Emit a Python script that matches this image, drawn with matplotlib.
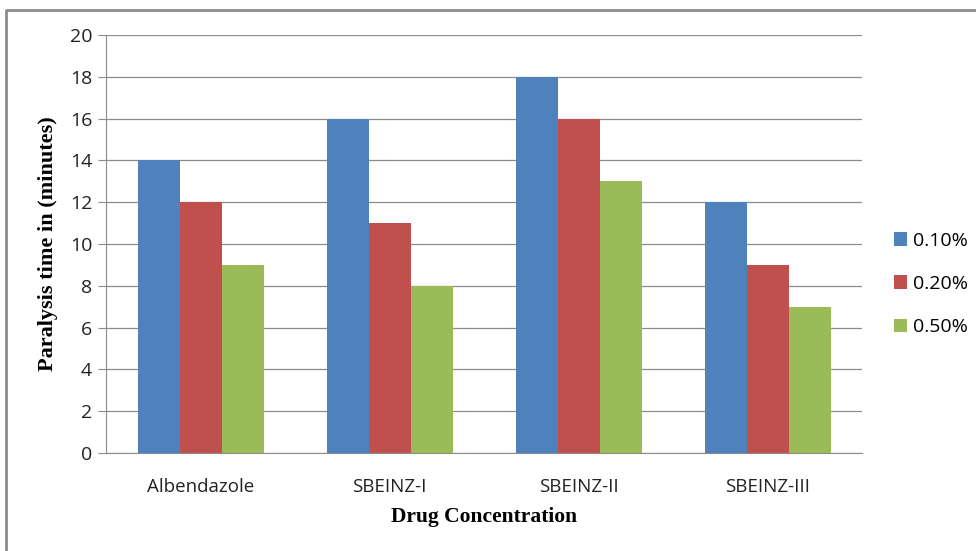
import matplotlib.pyplot as plt
from matplotlib.lines import Line2D
import numpy as np

drugs = ['Albendazole', 'SBEINZ-I', 'SBEINZ-II', 'SBEINZ-III']
conc = ['0.10%', '0.20%', '0.50%']
c010 = [14, 16, 18, 12]
c020 = [12, 11, 16, 9]
c050 = [9, 8, 13, 7]
colors = ['#4f81bd', '#c0504d', '#9bbb59']

W, H = 976, 551
fig = plt.figure(figsize=(W / 100, H / 100), dpi=100)
# chart frame: only left and top edges are visible in the crop
fig.lines.append(Line2D([6 / W, 6 / W, 1], [0, 1 - 10 / H, 1 - 10 / H], transform=fig.transFigure,
                        color='#8c8c8c', linewidth=2))
ax = fig.add_axes([106 / W, 1 - 453 / H, 756 / W, 418 / H])

x = np.arange(len(drugs))
bw = 2 / 9
for i, (vals, lab) in enumerate(zip([c010, c020, c050], conc)):
    ax.bar(x + (i - 1) * bw, vals, bw, color=colors[i], label=lab, zorder=3)

ax.set_xlim(-0.5, 3.5)
ax.set_ylim(0, 20)
ax.set_yticks(range(0, 21, 2))
ax.set_xticks(x)
ax.set_xticklabels(drugs)
ax.grid(axis='y', color='#8c8c8c', linewidth=0.9, zorder=0)
for s in ['top', 'right']:
    ax.spines[s].set_visible(False)
for s in ['left', 'bottom']:
    ax.spines[s].set_color('#8c8c8c')
ax.tick_params(axis='y', length=6, color='#8c8c8c', labelsize=14, pad=4)
ax.tick_params(axis='x', length=0, labelsize=13.5, pad=18)
for t in ax.get_xticklabels() + ax.get_yticklabels():
    t.set_fontfamily('Open Sans')
    t.set_color('#222222')

ax.set_xlabel('Drug Concentration', fontfamily='Liberation Serif', fontweight='bold',
              fontsize=15.5, labelpad=8)
ax.set_ylabel('Paralysis time in (minutes)', fontfamily='Liberation Serif', fontweight='bold',
              fontsize=16, labelpad=8)

leg = fig.legend(loc='center left', bbox_to_anchor=(876 / W, 1 - 284 / H), frameon=False,
                 prop={'family': 'Open Sans', 'size': 14}, handlelength=0.7, handleheight=0.7,
                 handletextpad=0.3, labelspacing=1.3)

fig.savefig('out.png', dpi=100)
